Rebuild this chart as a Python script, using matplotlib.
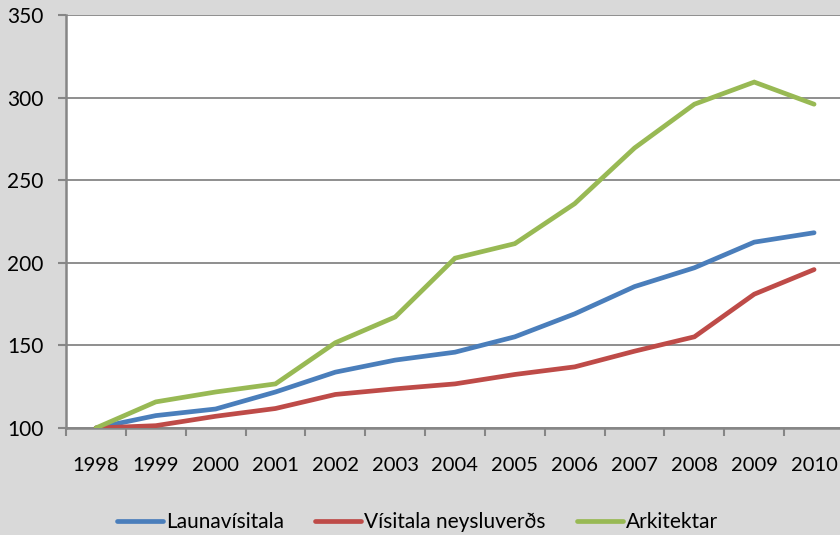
import matplotlib
matplotlib.use("Agg")
import matplotlib.pyplot as plt
from matplotlib.ticker import FixedLocator

years = ["1998", "1999", "2000", "2001", "2002", "2003", "2004",
         "2005", "2006", "2007", "2008", "2009", "2010"]
launavisitala = [100, 107.5, 111.5, 121.8, 133.8, 141.1, 145.9,
                 155.2, 169.1, 185.6, 197.0, 212.5, 218.2]
visitala_neysluverds = [100, 101.4, 107.1, 111.8, 120.3, 123.7, 126.7,
                        132.4, 137.0, 146.5, 155.2, 181.0, 195.9]
arkitektar = [100, 115.8, 121.8, 126.7, 151.6, 167.2, 202.8,
              211.6, 235.8, 269.5, 296.0, 309.4, 296.0]
series_names = ["Launavísitala", "Vísitala neysluverðs", "Arkitektar"]
yticks = [100, 150, 200, 250, 300, 350]

plt.rcParams['font.family'] = ['Lato', 'DejaVu Sans']

W, H = 840, 535
fig = plt.figure(figsize=(W / 100, H / 100), dpi=100)
fig.patch.set_facecolor('#d9d9d9')

left, right, top, bottom = 66, 844, 15, 428
ax = fig.add_axes([left / W, 1 - bottom / H, (right - left) / W, (bottom - top) / H])
ax.set_facecolor('white')

x = list(range(len(years)))
colors = ['#4a7ebb', '#be4b48', '#98b954']
for vals, name, c in zip([launavisitala, visitala_neysluverds, arkitektar], series_names, colors):
    ax.plot(x, vals, color=c, lw=3.4, label=name, solid_capstyle='round',
            solid_joinstyle='miter', zorder=3)

ax.set_xlim(-0.5, len(years) - 0.5)
ax.set_ylim(100, 350)
ax.set_yticks(yticks)
ax.set_yticklabels([str(v) for v in yticks])
ax.yaxis.grid(True, color='#868686', lw=1.3)
ax.set_axisbelow(True)

ax.set_xticks(x)
ax.set_xticklabels(years)
ax.xaxis.set_minor_locator(FixedLocator([i - 0.5 for i in range(len(years) + 1)]))
ax.tick_params(axis='x', which='major', length=0, pad=21, labelsize=14.5, colors='black')
ax.tick_params(axis='x', which='minor', length=6, width=1.5, color='#868686', direction='out')
ax.tick_params(axis='y', which='major', length=6, width=1.5, color='#868686', pad=10,
               labelsize=15, labelcolor='black')

for s in ['top', 'right']:
    ax.spines[s].set_visible(False)
for s in ['left', 'bottom']:
    ax.spines[s].set_color('#868686')
    ax.spines[s].set_linewidth(1.8)

leg = fig.legend(loc='center', bbox_to_anchor=(0.497, 0.024), ncol=3, frameon=False,
                 fontsize=15, handlelength=2.2, handletextpad=0.15, columnspacing=1.5)
for l in leg.get_lines():
    l.set_linewidth(3.4)

fig.savefig('out.png', dpi=100, facecolor=fig.get_facecolor())
